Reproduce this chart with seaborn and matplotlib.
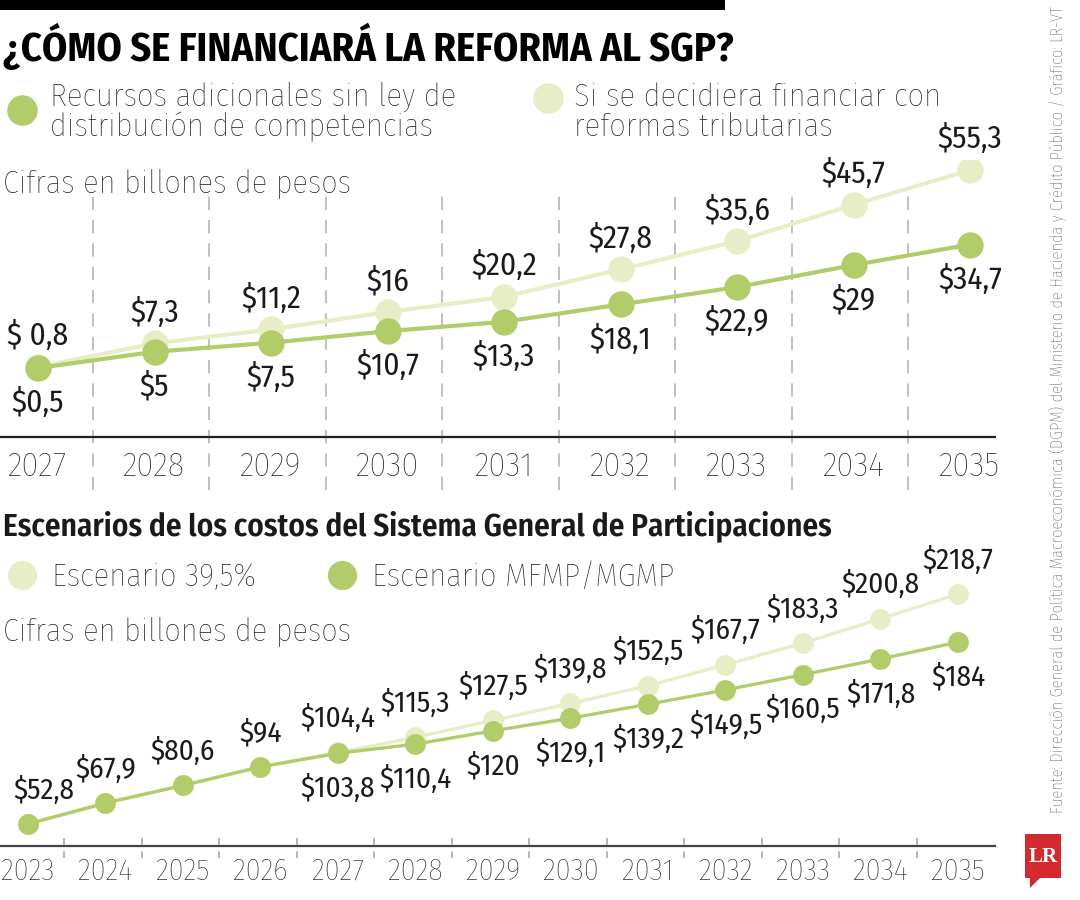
import matplotlib
matplotlib.use("Agg")
import matplotlib.pyplot as plt
import seaborn as sns
from matplotlib import font_manager
from matplotlib.lines import Line2D
from matplotlib.patches import Rectangle, Polygon

# Datos: reforma al SGP (billones de pesos)
years_top = [2027, 2028, 2029, 2030, 2031, 2032, 2033, 2034, 2035]
sin_ley = [0.5, 5, 7.5, 10.7, 13.3, 18.1, 22.9, 29, 34.7]
reformas = [0.8, 7.3, 11.2, 16, 20.2, 27.8, 35.6, 45.7, 55.3]
sin_ley_lbl = ["$0,5", "$5", "$7,5", "$10,7", "$13,3", "$18,1", "$22,9", "$29", "$34,7"]
reformas_lbl = ["$ 0,8", "$7,3", "$11,2", "$16", "$20,2", "$27,8", "$35,6", "$45,7", "$55,3"]

years_bot = [2023, 2024, 2025, 2026, 2027, 2028, 2029, 2030, 2031, 2032, 2033, 2034, 2035]
esc_395 = [52.8, 67.9, 80.6, 94, 104.4, 115.3, 127.5, 139.8, 152.5, 167.7, 183.3, 200.8, 218.7]
esc_mfmp = [52.8, 67.9, 80.6, 94, 103.8, 110.4, 120, 129.1, 139.2, 149.5, 160.5, 171.8, 184]
esc_395_lbl = ["$52,8", "$67,9", "$80,6", "$94", "$104,4", "$115,3", "$127,5", "$139,8",
               "$152,5", "$167,7", "$183,3", "$200,8", "$218,7"]
esc_mfmp_lbl = ["", "", "", "", "$103,8", "$110,4", "$120", "$129,1", "$139,2", "$149,5",
                "$160,5", "$171,8", "$184"]

DARK = "#b3cc6a"
LIGHT = "#e7eec7"
TXT = "#1a1a1a"

sns.set_style("white")

# fuente condensada si existe, si no Liberation Sans un poco más pequeña
names = {f.name for f in font_manager.fontManager.ttflist}
FONT, K = "Liberation Sans", 0.86
for cand in ["Fira Sans Condensed", "Roboto Condensed", "Encode Sans Condensed",
             "Liberation Sans Narrow"]:
    if cand in names:
        FONT, K = cand, 1.0
        break
plt.rcParams["font.family"] = [FONT, "DejaVu Sans"]
plt.rcParams["font.weight"] = "light"


def fs(v):
    return v * K


fig = plt.figure(figsize=(10.8, 9), dpi=100)
W, H = 1080, 900


def fx(x):
    return x / W


def fy(y):
    return 1 - y / H


# barra negra y título
fig.add_artist(Rectangle((0, fy(10)), fx(725), 10 / H, transform=fig.transFigure,
                         color="black", lw=0))
fig.text(fx(3), fy(46), "¿CÓMO SE FINANCIARÁ LA REFORMA AL SGP?", fontsize=fs(29),
         weight="bold", color="black", va="center", ha="left")


def legend_dot(x, y, color, size=22):
    fig.add_artist(Line2D([fx(x)], [fy(y)], marker="o", markersize=size, color=color,
                          markeredgewidth=0, transform=fig.transFigure))


# leyenda superior
legend_dot(22, 110, DARK)
fig.text(fx(50), fy(112), "Recursos adicionales sin ley de\ndistribución de competencias",
         fontsize=fs(23.5), color=TXT, va="center", linespacing=1.0)
legend_dot(548, 98, LIGHT)
fig.text(fx(574), fy(112), "Si se decidiera financiar con\nreformas tributarias",
         fontsize=fs(23.5), color=TXT, va="center", linespacing=1.0)
fig.text(fx(3), fy(184), "Cifras en billones de pesos", fontsize=fs(23.3), color=TXT,
         va="center")

# gráfico superior
ax1 = fig.add_axes([0, fy(437), fx(995), 277 / H])
ax1.set_xlim(2027 - 38 / 116.5, 2035 + 25 / 116.5)
ax1.set_ylim(-18.6, 58.1)
for yr in years_top[:-1]:
    ax1.axvline(yr + 0.47, ymin=-0.19, ymax=0.89, clip_on=False, color="#b5b5b5",
                lw=1.2, ls=(0, (8, 6)), zorder=0)
sns.lineplot(x=years_top, y=reformas, ax=ax1, color=LIGHT, lw=3, marker="o",
             markersize=19, markeredgewidth=0, zorder=2)
sns.lineplot(x=years_top, y=sin_ley, ax=ax1, color=DARK, lw=3, marker="o",
             markersize=19, markeredgewidth=0, zorder=3)
for yr, v, t in zip(years_top, reformas, reformas_lbl):
    ax1.annotate(t, (yr, v), xytext=(0, 31), textcoords="offset pixels", ha="center",
                 va="center", fontsize=fs(22.5), color=TXT, weight="normal")
for yr, v, t in zip(years_top, sin_ley, sin_ley_lbl):
    ax1.annotate(t, (yr, v), xytext=(0, -35), textcoords="offset pixels", ha="center",
                 va="center", fontsize=fs(22.5), color=TXT, weight="normal")
ax1.set_xticks(years_top)
ax1.set_xticklabels([str(y) for y in years_top], fontsize=fs(25), color=TXT)
ax1.tick_params(axis="x", length=0, pad=10)
ax1.set_yticks([])
for s in ["top", "left", "right"]:
    ax1.spines[s].set_visible(False)
ax1.spines["bottom"].set_color("#222222")
ax1.spines["bottom"].set_linewidth(1.6)
ax1.patch.set_alpha(0)

# gráfico inferior
fig.text(fx(3), fy(526), "Escenarios de los costos del Sistema General de Participaciones",
         fontsize=fs(22.5), color=TXT, va="center", weight="semibold")
legend_dot(22, 575, LIGHT, 21)
fig.text(fx(52), fy(577), "Escenario 39,5%", fontsize=fs(23.5), color=TXT, va="center")
legend_dot(342, 575, DARK, 21)
fig.text(fx(372), fy(577), "Escenario MFMP/MGMP", fontsize=fs(23.5), color=TXT, va="center")
fig.text(fx(3), fy(632), "Cifras en billones de pesos", fontsize=fs(23.3), color=TXT,
         va="center")

ax2 = fig.add_axes([0, fy(846), fx(995), 266 / H])
ax2.set_xlim(2023 - 28 / 77.5, 2035 + 37 / 77.5)
ax2.set_ylim(36.9, 228.8)
for yr in years_bot[:-1]:
    ax2.axvline(yr + 0.47, ymin=-0.045, ymax=0.042, clip_on=False, color="#a8a8a8",
                lw=1.2, ls=(0, (4, 4)), zorder=0)
sns.lineplot(x=years_bot, y=esc_395, ax=ax2, color=LIGHT, lw=2.4, marker="o",
             markersize=15, markeredgewidth=0, zorder=2)
sns.lineplot(x=years_bot, y=esc_mfmp, ax=ax2, color=DARK, lw=2.4, marker="o",
             markersize=15, markeredgewidth=0, zorder=3)
for i, (yr, v, t) in enumerate(zip(years_bot, esc_395, esc_395_lbl)):
    dx = 16 if i == 0 else 0  # la primera etiqueta va corrida a la derecha
    ax2.annotate(t, (yr, v), xytext=(dx, 34), textcoords="offset pixels", ha="center",
                 va="center", fontsize=fs(21), color=TXT, weight="normal")
for yr, v, t in zip(years_bot, esc_mfmp, esc_mfmp_lbl):
    if t:
        ax2.annotate(t, (yr, v), xytext=(0, -35), textcoords="offset pixels", ha="center",
                     va="center", fontsize=fs(21), color=TXT, weight="normal")
ax2.set_xticks(years_bot)
ax2.set_xticklabels([str(y) for y in years_bot], fontsize=fs(22), color=TXT)
ax2.tick_params(axis="x", length=0, pad=8)
ax2.set_yticks([])
for s in ["top", "left", "right"]:
    ax2.spines[s].set_visible(False)
ax2.spines["bottom"].set_color("#444444")
ax2.spines["bottom"].set_linewidth(1.6)
ax2.patch.set_alpha(0)
for ax in (ax1, ax2):
    leg = ax.get_legend()
    if leg:
        leg.remove()
    ax.set_xlabel("")
    ax.set_ylabel("")

# fuente y logo
fig.text(fx(1057), fy(409),
         "Fuente: Dirección General de Política Macroeconómica (DGPM) del Ministerio de "
         "Hacienda y Crédito Público / Gráfico: LR-VT",
         rotation=90, fontsize=fs(11.8), color="#333333", ha="center", va="center")
fig.add_artist(Polygon([(fx(1025), fy(834)), (fx(1061), fy(834)), (fx(1061), fy(878)),
                        (fx(1040), fy(878)), (fx(1030), fy(888)), (fx(1030), fy(878)),
                        (fx(1025), fy(878))], closed=True, transform=fig.transFigure,
                       color="#d42a2f", lw=0))
fig.text(fx(1043), fy(857), "LR", fontsize=15, weight="bold", color="white",
         family=["Liberation Serif", "DejaVu Serif"], ha="center", va="center")

fig.savefig("out.png", dpi=100)
